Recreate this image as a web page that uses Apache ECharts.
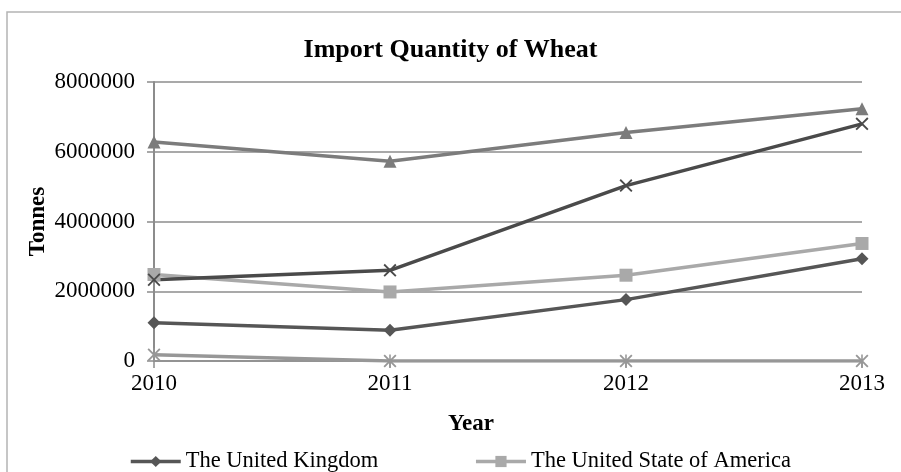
<!DOCTYPE html>
<html>
<head>
<meta charset="utf-8">
<script src="https://cdn.jsdelivr.net/npm/echarts@6/dist/echarts.min.js"></script>
<style>
  html, body { margin: 0; padding: 0; background: #fff; }
  #chart { width: 901px; height: 472px; }
</style>
</head>
<body>
<div id="chart"></div>
<script>
// Wheat import quantities (tonnes) by year
const years = ['2010', '2011', '2012', '2013'];
const unitedKingdom = [1100000, 880000, 1760000, 2930000];
const unitedStates = [2480000, 1980000, 2460000, 3370000];
const seriesTriangle = [6280000, 5730000, 6550000, 7230000];
const seriesCross = [2330000, 2600000, 5030000, 6800000];
const seriesStar = [180000, 0, 0, 0];
const yTicks = [0, 2000000, 4000000, 6000000, 8000000];

const FONT = '"Liberation Serif", "Times New Roman", serif';

// Marker shapes: a thin X and an X with a vertical bar
const crossPath = 'path://M0,1L1,0L5,4L9,0L10,1L6,5L10,9L9,10L5,6L1,10L0,9L4,5Z';
const starPath = 'path://M0,1L1,0L5,4L9,0L10,1L6,5L10,9L9,10L5,6L1,10L0,9L4,5Z' +
                 'M4.4,0L5.6,0L5.6,10L4.4,10Z';

function lineSeries(name, data, color, symbol, size) {
  return {
    name: name,
    type: 'line',
    data: data,
    symbol: symbol,
    symbolSize: size,
    showAllSymbol: true,
    lineStyle: { color: color, width: 3.5 },
    itemStyle: { color: color },
    emphasis: { disabled: true },
    animation: false,
    z: 3
  };
}

const chart = echarts.init(document.getElementById('chart'));
chart.setOption({
  backgroundColor: '#ffffff',
  animation: false,
  graphic: [{
    type: 'rect',
    shape: { x: 7, y: 12, width: 1000, height: 1000 },
    style: { fill: 'none', stroke: '#b4b4b4', lineWidth: 1.5 },
    silent: true
  }],
  title: {
    text: 'Import Quantity of Wheat',
    left: 'center',
    top: 32,
    textStyle: { fontFamily: FONT, fontSize: 26, fontWeight: 'bold', color: '#000' }
  },
  legend: {
    data: ['The United Kingdom', 'The United State of America'],
    left: 124,
    top: 445,
    itemGap: 96,
    itemWidth: 50,
    itemHeight: 14,
    lineStyle: { width: 3.5 },
    textStyle: { fontFamily: FONT, fontSize: 22.5, color: '#000' }
  },
  grid: { left: 154, right: 39, top: 82, bottom: 111 },
  xAxis: {
    type: 'category',
    data: years,
    boundaryGap: false,
    name: 'Year',
    nameLocation: 'middle',
    nameGap: 52,
    nameMoveOverlap: false,
    nameTextStyle: {
      fontFamily: FONT, fontSize: 23, fontWeight: 'bold', color: '#000',
      padding: [0, 74, 0, 0]
    },
    axisLine: { show: true, lineStyle: { color: '#8c8c8c', width: 1.5 } },
    axisTick: { show: true, length: 7, alignWithLabel: true, lineStyle: { color: '#8c8c8c', width: 1.5 } },
    axisLabel: { fontFamily: FONT, fontSize: 23, color: '#000', margin: 11 },
    splitLine: { show: false }
  },
  yAxis: {
    type: 'value',
    min: yTicks[0],
    max: yTicks[yTicks.length - 1],
    interval: yTicks[1] - yTicks[0],
    name: 'Tonnes',
    nameLocation: 'middle',
    nameRotate: 90,
    nameGap: 104,
    nameMoveOverlap: false,
    nameTextStyle: { fontFamily: FONT, fontSize: 23, fontWeight: 'bold', color: '#000' },
    axisLine: { show: true, lineStyle: { color: '#8c8c8c', width: 2 } },
    axisTick: { show: true, length: 7, lineStyle: { color: '#8c8c8c', width: 1.5 } },
    axisLabel: {
      fontFamily: FONT, fontSize: 23, color: '#000', margin: 19,
      formatter: function (v) { return String(v); }
    },
    splitLine: { show: true, lineStyle: { color: '#8c8c8c', width: 1.5 } }
  },
  series: [
    lineSeries('The United Kingdom', unitedKingdom, '#565656', 'diamond', 13),
    lineSeries('The United State of America', unitedStates, '#a9a9a9', 'rect', 13),
    lineSeries('Triangle series', seriesTriangle, '#7c7c7c', 'triangle', 13),
    lineSeries('Cross series', seriesCross, '#4a4a4a', crossPath, 13),
    lineSeries('Star series', seriesStar, '#979797', starPath, 13)
  ]
});
</script>
</body>
</html>
